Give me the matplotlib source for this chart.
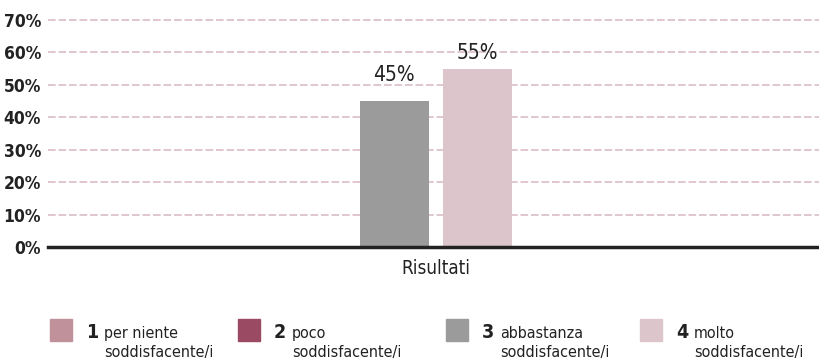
import matplotlib
matplotlib.use("Agg")
from matplotlib import pyplot as plt
from matplotlib.patches import Rectangle

categories = ["Risultati"]
series_numbers = ["1", "2", "3", "4"]
series_labels = [
    "per niente\nsoddisfacente/i",
    "poco\nsoddisfacente/i",
    "abbastanza\nsoddisfacente/i",
    "molto\nsoddisfacente/i",
]
series_values = [0, 0, 45, 55]
series_colors = ["#c0909b", "#9a4a62", "#9b9b9b", "#dcc6cb"]
y_ticks = [0, 10, 20, 30, 40, 50, 60, 70]

FONT = dict(family="DejaVu Sans", fontstretch="condensed")
TEXT_COLOR = "#222222"


def draw_bars(ax):
    shown = [i for i, v in enumerate(series_values) if v > 0]
    width = 0.0895
    step = 0.1077
    label_pads = {2: 16, 3: 6}
    for k, i in enumerate(shown):
        x = (k - (len(shown) - 1) / 2) * step
        ax.bar(x, series_values[i], width=width, color=series_colors[i], zorder=3)
        ax.annotate(f"{series_values[i]}%", (x, series_values[i]),
                    xytext=(0, label_pads.get(i, 6)), textcoords="offset pixels",
                    ha="center", va="bottom", fontsize=15, color=TEXT_COLOR,
                    **FONT)


def draw_legend(fig):
    starts = [50, 238, 446, 640]
    W, H = 819, 363
    for x0, num, lab, col in zip(starts, series_numbers, series_labels, series_colors):
        fig.patches.append(Rectangle((x0 / W, 1 - 341 / H), 22 / W, 22 / H,
                                     transform=fig.transFigure, color=col))
        fig.text((x0 + 36) / W, 1 - 338 / H, num, fontsize=14, fontweight="bold",
                 color=TEXT_COLOR, ha="left", va="baseline", **FONT)
        first, second = lab.split("\n")
        fig.text((x0 + 54) / W, 1 - 338 / H, first, fontsize=11.5,
                 color=TEXT_COLOR, ha="left", va="baseline", **FONT)
        fig.text((x0 + 54) / W, 1 - 357 / H, second, fontsize=11.5,
                 color=TEXT_COLOR, ha="left", va="baseline", **FONT)


def main():
    fig = plt.figure(figsize=(8.19, 3.63), dpi=100)
    ax = fig.add_axes([48 / 819, 1 - 247 / 363, 1 - 48 / 819, (247 - 20) / 363])

    draw_bars(ax)

    ax.set_ylim(0, 70)
    ax.set_xlim(-0.503, 0.497)
    ax.set_yticks(y_ticks)
    ax.set_yticklabels([f"{t}%" for t in y_ticks], fontsize=12.5,
                       fontweight="bold", color=TEXT_COLOR, **FONT)
    ax.tick_params(axis="y", length=0, pad=5)
    ax.set_xticks([0])
    ax.set_xticklabels(categories, fontsize=13.5, color=TEXT_COLOR, **FONT)
    ax.tick_params(axis="x", length=0, pad=9)

    for t in y_ticks[1:]:
        ax.axhline(t, color="#dbbdc6", lw=1.2, ls=(0, (4.6, 1.7)), zorder=1,
                   clip_on=False)

    for side in ["top", "right", "left"]:
        ax.spines[side].set_visible(False)
    ax.spines["bottom"].set_color("#222222")
    ax.spines["bottom"].set_linewidth(2.5)
    ax.spines["bottom"].set_zorder(4)

    draw_legend(fig)

    fig.savefig("out.png", dpi=100)


if __name__ == "__main__":
    main()
